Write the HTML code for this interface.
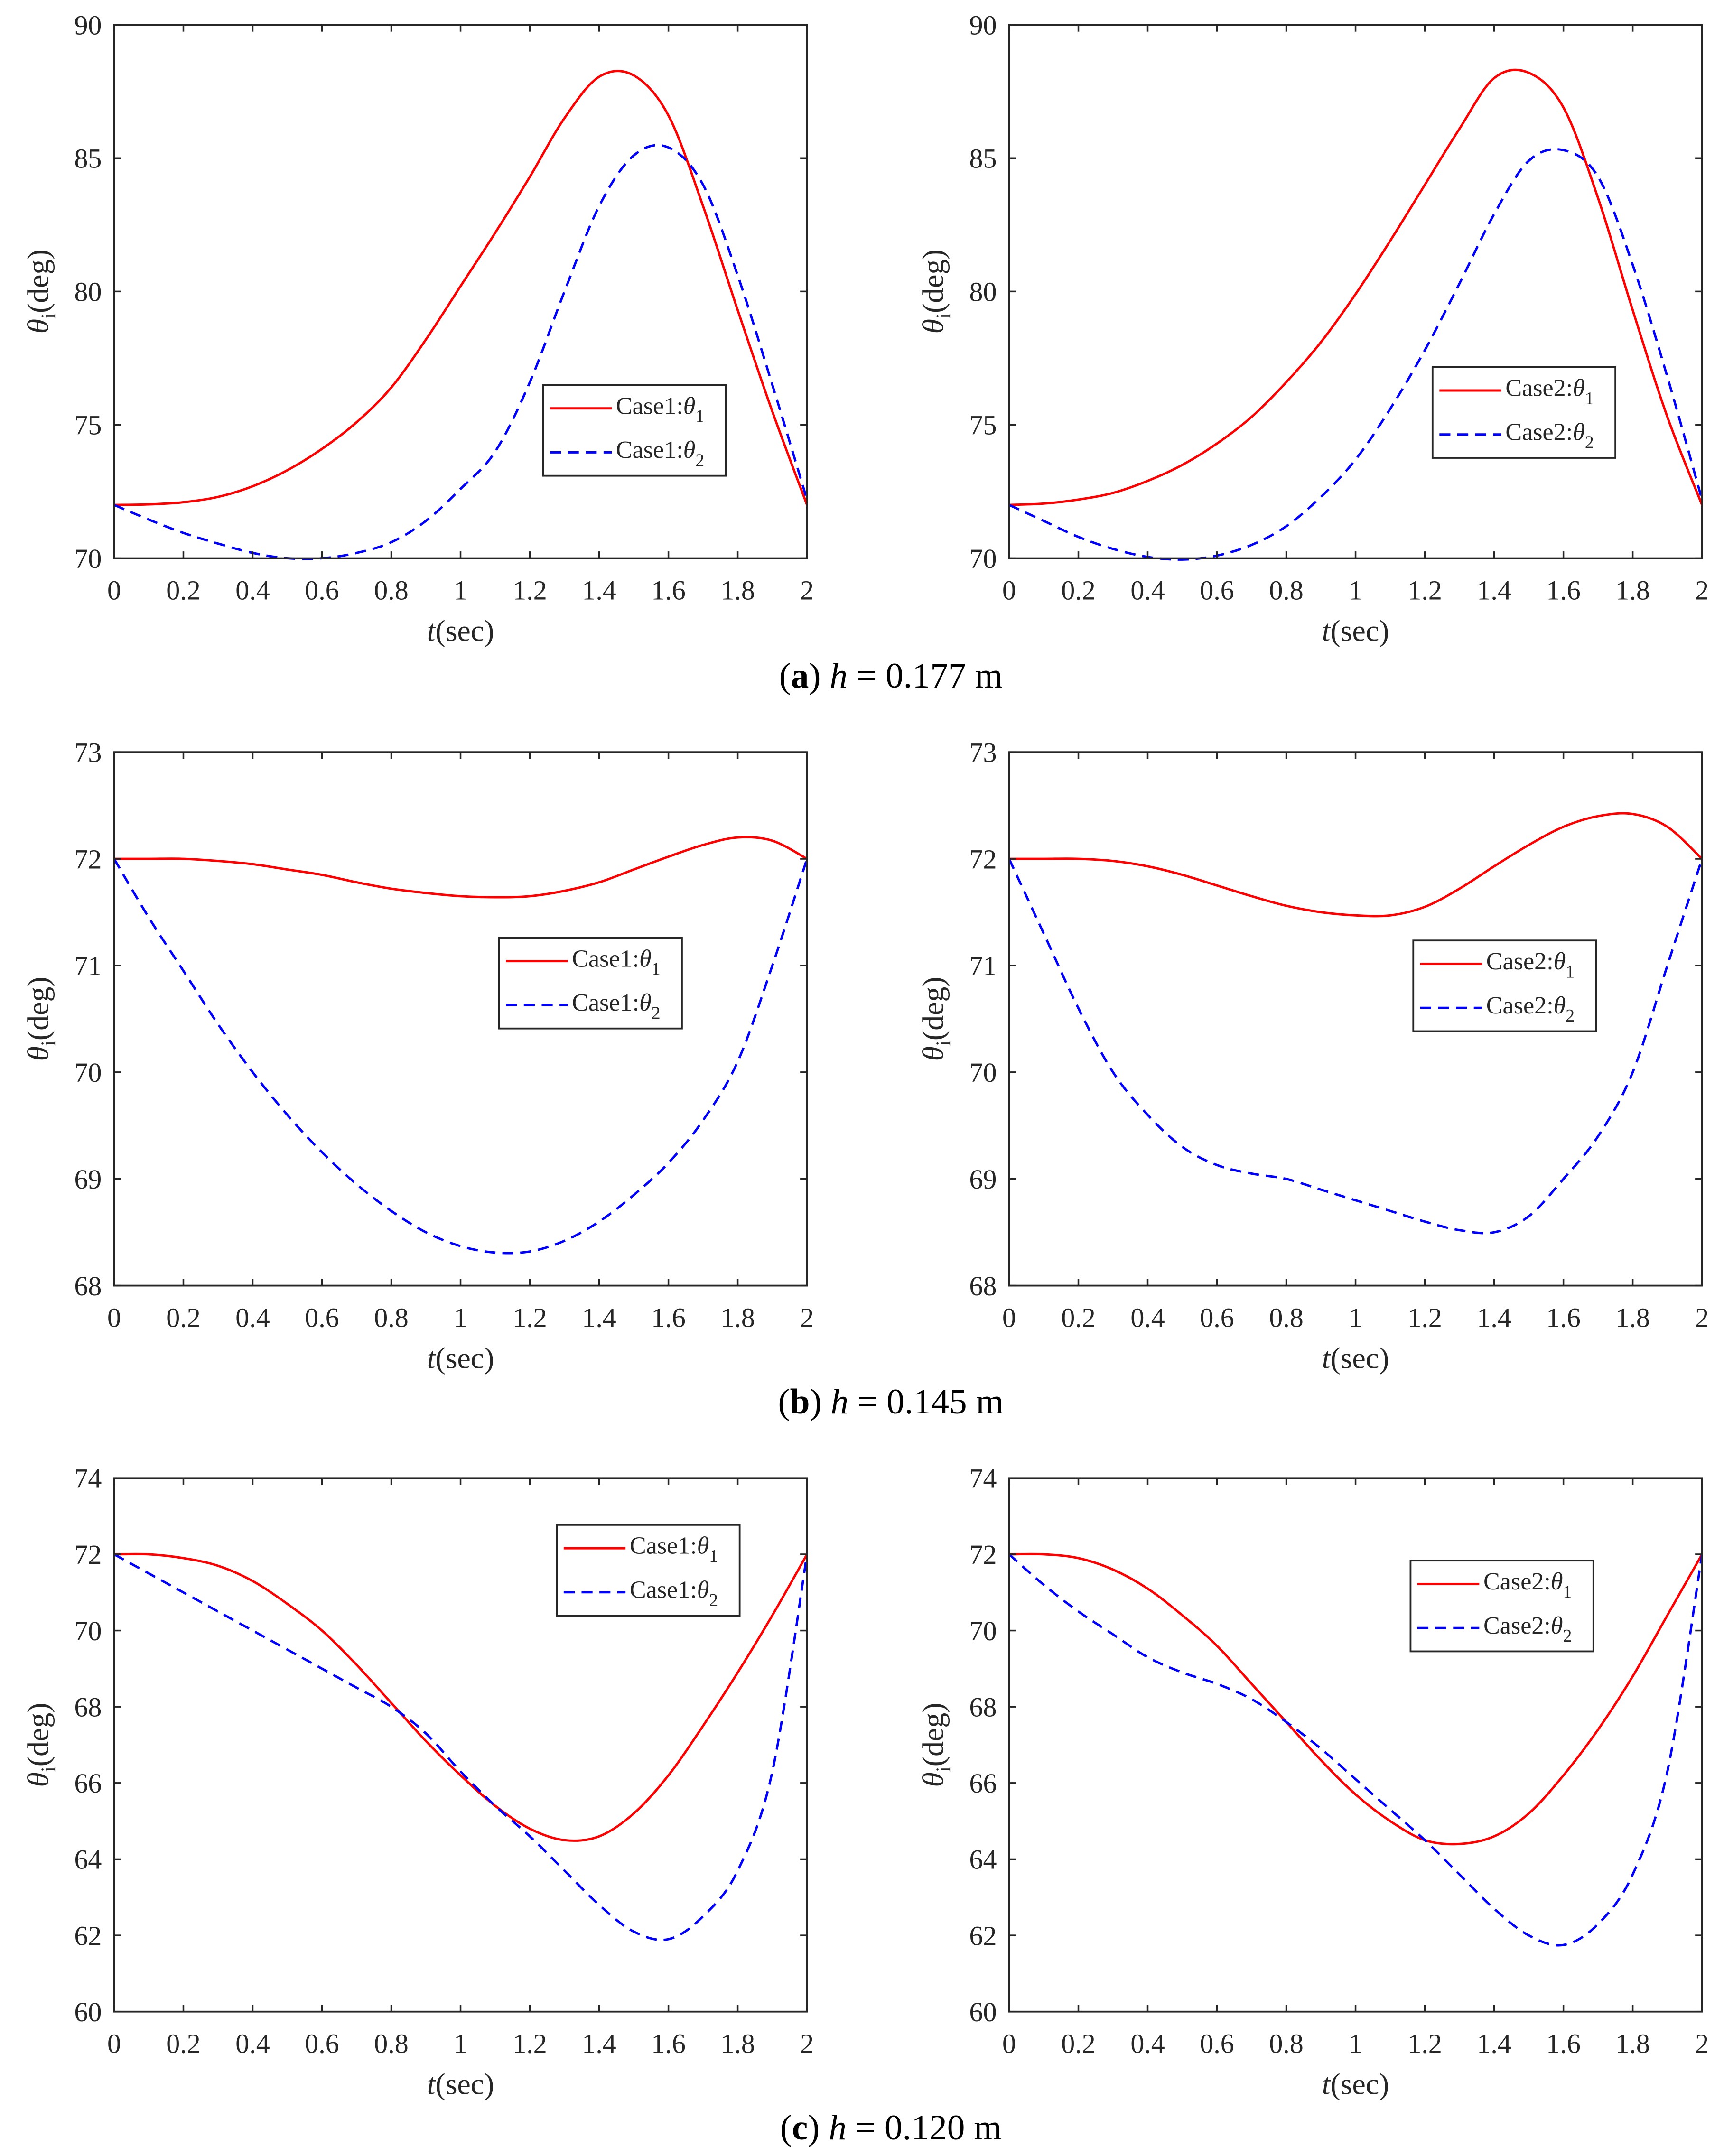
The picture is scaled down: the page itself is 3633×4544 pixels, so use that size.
<!DOCTYPE html>
<html><head><meta charset="utf-8"><style>
html,body{margin:0;padding:0;background:#fff}
svg{display:block}
text{font-family:"Liberation Serif",serif;fill:#262626}
</style></head><body>
<svg id="fig" width="3633" height="4544" viewBox="0 0 1254 1568" preserveAspectRatio="none" xmlns="http://www.w3.org/2000/svg">
<text x="648" y="500" text-anchor="middle" font-size="26" style="fill:#000">(<tspan font-weight="bold">a</tspan>) <tspan font-style="italic">h</tspan> = 0.177 m</text>
<text x="648" y="1028" text-anchor="middle" font-size="26" style="fill:#000">(<tspan font-weight="bold">b</tspan>) <tspan font-style="italic">h</tspan> = 0.145 m</text>
<text x="648" y="1556" text-anchor="middle" font-size="26" style="fill:#000">(<tspan font-weight="bold">c</tspan>) <tspan font-style="italic">h</tspan> = 0.120 m</text>
</svg>
<script>
const tVals=[0,0.1,0.2,0.3,0.4,0.5,0.6,0.7,0.8,0.9,1.0,1.1,1.2,1.3,1.4,1.5,1.6,1.7,1.8,1.9,2.0];
const xTicks=[0,0.2,0.4,0.6,0.8,1,1.2,1.4,1.6,1.8,2];
const xTickLabels=["0","0.2","0.4","0.6","0.8","1","1.2","1.4","1.6","1.8","2"];
const a1Theta1=[72,72.02,72.1,72.3,72.7,73.3,74.1,75.1,76.4,78.2,80.2,82.2,84.3,86.5,88.05,88.1,86.6,83.2,79.3,75.5,72.0];
const a1Theta2=[72,71.45,70.95,70.55,70.2,70.0,70.0,70.2,70.6,71.4,72.6,74.0,76.6,80.0,83.2,85.1,85.4,84.0,80.6,76.5,72.2];
const a2Theta1=[72,72.05,72.2,72.45,72.9,73.5,74.3,75.3,76.6,78.1,79.9,81.9,84.0,86.1,88.0,88.2,86.9,83.5,79.3,75.3,72.0];
const a2Theta2=[72,71.4,70.8,70.35,70.05,69.95,70.1,70.5,71.2,72.3,73.7,75.6,77.8,80.3,82.9,84.9,85.3,84.3,81.0,76.8,72.2];
const b1Theta1=[72,72.0,72.0,71.98,71.95,71.9,71.85,71.78,71.72,71.68,71.65,71.64,71.65,71.7,71.78,71.9,72.02,72.13,72.2,72.17,72.0];
const b1Theta2=[72,71.45,70.95,70.45,70.0,69.6,69.25,68.95,68.7,68.5,68.37,68.31,68.32,68.42,68.6,68.85,69.15,69.55,70.1,71.0,72.0];
const b2Theta1=[72,72.0,72.0,71.98,71.93,71.85,71.75,71.65,71.56,71.5,71.47,71.47,71.55,71.72,71.93,72.13,72.3,72.4,72.42,72.3,72.0];
const b2Theta2=[72,71.3,70.6,70.0,69.6,69.3,69.13,69.05,69.0,68.9,68.8,68.7,68.6,68.52,68.5,68.65,69.0,69.4,70.0,71.0,72.0];
const c1Theta1=[72,72.0,71.9,71.7,71.3,70.7,70.0,69.1,68.1,67.1,66.2,65.4,64.8,64.5,64.6,65.2,66.2,67.5,68.9,70.4,72.0];
const c1Theta2=[72,71.5,71.0,70.5,70.0,69.5,69.0,68.5,68.0,67.3,66.3,65.4,64.6,63.7,62.8,62.1,61.9,62.5,63.7,66.3,72.0];
const c2Theta1=[72,72.0,71.9,71.6,71.1,70.4,69.6,68.6,67.6,66.6,65.7,65.0,64.5,64.4,64.6,65.2,66.2,67.4,68.8,70.4,72.0];
const c2Theta2=[72,71.2,70.5,69.9,69.3,68.9,68.6,68.2,67.6,66.9,66.1,65.3,64.5,63.6,62.7,62.0,61.75,62.3,63.6,66.3,72.0];
const yTicksA=[70,75,80,85,90];
const yTicksB=[68,69,70,71,72,73];
const yTicksC=[60,62,64,66,68,70,72,74];

const NS="http://www.w3.org/2000/svg";
const svg=document.getElementById('fig');
function mk(tag,attrs,parent){const e=document.createElementNS(NS,tag);for(const k in attrs)e.setAttribute(k,attrs[k]);(parent||svg).appendChild(e);return e;}
function pathFrom(pts){let d="M"+pts[0][0]+","+pts[0][1];for(let i=0;i<pts.length-1;i++){const p0=pts[Math.max(0,i-1)],p1=pts[i],p2=pts[i+1],p3=pts[Math.min(pts.length-1,i+2)];const c1x=p1[0]+(p2[0]-p0[0])/6,c1y=p1[1]+(p2[1]-p0[1])/6,c2x=p2[0]-(p3[0]-p1[0])/6,c2y=p2[1]-(p3[1]-p1[1])/6;d+=" C"+c1x+","+c1y+" "+c2x+","+c2y+" "+p2[0]+","+p2[1];}return d;}

function panel(name,x0,y0,yTicks,s1,s2,caseLbl,lx,ly){
  const W=504,H=388,x1=x0+W,y1=y0+H,ymin=yTicks[0],ymax=yTicks[yTicks.length-1];
  const xs=t=>x0+t/2*W, ys=v=>y1-(v-ymin)/(ymax-ymin)*H;
  const g=mk('g',{});
  
  
  const clipId=name+'-clip';
  const cp=mk('clipPath',{id:clipId},g);mk('rect',{x:x0,y:y0-2,width:W,height:H+4},cp);
  const r1=mk('path',{d:pathFrom(tVals.map((t,i)=>[xs(t),ys(s1[i])])),fill:'none',stroke:'#ff0000','stroke-width':1.7,'clip-path':'url(#'+clipId+')'},g);
  
  
  const r2=mk('path',{d:pathFrom(tVals.map((t,i)=>[xs(t),ys(s2[i])])),fill:'none',stroke:'#0000ff','stroke-width':1.7,'stroke-dasharray':'8,5','clip-path':'url(#'+clipId+')'},g);
  
  
  const box=mk('rect',{x:x0,y:y0,width:W,height:H,fill:'none',stroke:'#262626','stroke-width':1.3},g);
  
  
  xTicks.forEach((t,i)=>{const x=xs(t);
    mk('line',{x1:x,y1:y1,x2:x,y2:y1-5,stroke:'#262626','stroke-width':1.2},g);
    mk('line',{x1:x,y1:y0,x2:x,y2:y0+5,stroke:'#262626','stroke-width':1.2},g);
    const tx=mk('text',{x:x,y:y1+30,'text-anchor':'middle','font-size':20},g);tx.textContent=xTickLabels[i];
    
    
  });
  yTicks.forEach(v=>{const y=ys(v);
    mk('line',{x1:x0,y1:y,x2:x0+5,y2:y,stroke:'#262626','stroke-width':1.2},g);
    mk('line',{x1:x1,y1:y,x2:x1-5,y2:y,stroke:'#262626','stroke-width':1.2},g);
    const tx=mk('text',{x:x0-9,y:y+7,'text-anchor':'end','font-size':20},g);tx.textContent=v;
    
    
  });
  const xl=mk('text',{x:x0+W/2,y:y1+60,'text-anchor':'middle','font-size':22},g);
  xl.innerHTML='<tspan font-style="italic">t</tspan>(sec)';
  
  
  const cy=y0+H/2, cx=x0-55;
  const yl=mk('text',{x:cx,y:cy+7,'text-anchor':'middle','font-size':22,transform:'rotate(-90 '+cx+' '+cy+')'},g);
  yl.innerHTML='<tspan font-style="italic">θ</tspan><tspan font-size="15" dy="5">i</tspan><tspan dy="-5">(deg)</tspan>';
  
  
  const lg=mk('g',{},g);
  
  
  mk('rect',{x:lx,y:ly,width:133,height:66,fill:'#fff',stroke:'#262626','stroke-width':1.3},lg);
  mk('line',{x1:lx+5,y1:ly+17,x2:lx+50,y2:ly+17,stroke:'#ff0000','stroke-width':1.7},lg);
  mk('line',{x1:lx+5,y1:ly+49,x2:lx+50,y2:ly+49,stroke:'#0000ff','stroke-width':1.7,'stroke-dasharray':'8,5'},lg);
  const t1=mk('text',{x:lx+53,y:ly+21,'font-size':18},lg);
  t1.innerHTML=caseLbl+':<tspan font-style="italic">θ</tspan><tspan font-size="13" dy="6">1</tspan>';
  
  
  const t2=mk('text',{x:lx+53,y:ly+53,'font-size':18},lg);
  t2.innerHTML=caseLbl+':<tspan font-style="italic">θ</tspan><tspan font-size="13" dy="6">2</tspan>';
  
  
}
panel('panel-a-case1',83,18,yTicksA,a1Theta1,a1Theta2,'Case1',395,280);
panel('panel-a-case2',734,18,yTicksA,a2Theta1,a2Theta2,'Case2',1042,267);
panel('panel-b-case1',83,547,yTicksB,b1Theta1,b1Theta2,'Case1',363,682);
panel('panel-b-case2',734,547,yTicksB,b2Theta1,b2Theta2,'Case2',1028,684);
panel('panel-c-case1',83,1075,yTicksC,c1Theta1,c1Theta2,'Case1',405,1109);
panel('panel-c-case2',734,1075,yTicksC,c2Theta1,c2Theta2,'Case2',1026,1135);
</script>
</body></html>
